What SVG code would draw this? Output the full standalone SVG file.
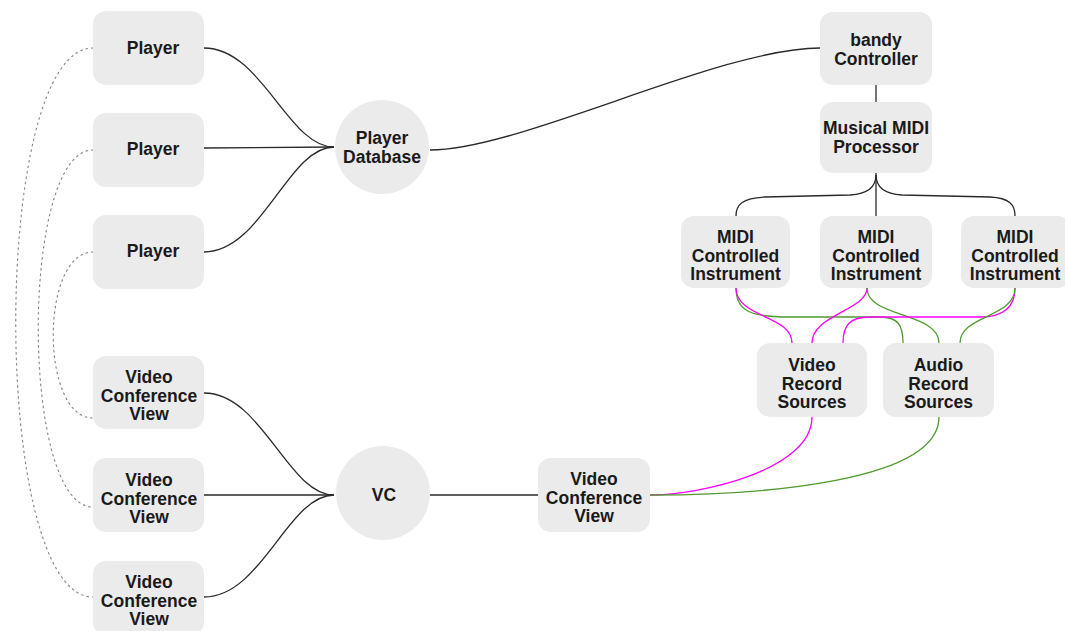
<svg xmlns="http://www.w3.org/2000/svg" width="1065" height="631" viewBox="0 0 1065 631">
<style>
.n{fill:#ebebeb;}
.t{font-family:"Liberation Sans",Arial,sans-serif;font-weight:bold;font-size:17.5px;fill:#1a1a1a;text-anchor:middle;}
.e{fill:none;stroke:#2a2a2a;stroke-width:1.3;}
.d{fill:none;stroke:#888;stroke-width:1.2;stroke-dasharray:1.5,4;stroke-linecap:round;}
.m{fill:none;stroke:#ff00ff;stroke-width:1.3;}
.g{fill:none;stroke:#4e9a2c;stroke-width:1.3;}
</style>
<rect width="1065" height="631" fill="#ffffff"/>
<g id="connectors">
<path class="d" d="M93,48 C-10,48 -10,597 93,597"/>
<path class="d" d="M93,150 C20,150 20,507 93,507"/>
<path class="d" d="M93,252 C40,252 40,418 93,418"/>
<path class="e" d="M204,48 C262,48 288,147 334,147"/>
<path class="e" d="M204,148 L334,147"/>
<path class="e" d="M204,252 C262,252 288,147 334,147"/>
<path class="e" d="M430,150 C520,150 720,48 820,48"/>
<path class="e" d="M876,85 L876,102"/>
<path class="e" d="M876,173 L876,216"/>
<path class="e" d="M876,175 C876,188 866,194 850,195 L765,197 C742,198 736,205 736,216"/>
<path class="e" d="M876,175 C876,188 886,194 902,195 L990,197 C1010,198 1015,205 1015,216"/>
<path class="e" d="M204,393 C262,393 288,495 334,495"/>
<path class="e" d="M204,495 L334,495"/>
<path class="e" d="M204,597 C262,597 288,495 334,495"/>
<path class="e" d="M430,495 L538,495"/>
<path class="g" d="M736,288 C736,312 752,317 790,317 L880,317 C898,317 903,325 903,343"/>
<path class="m" d="M736,288 C736,318 792,315 792,343"/>
<path class="m" d="M867,288 C867,310 812,315 812,343"/>
<path class="g" d="M867,288 C867,318 939,312 939,343"/>
<path class="m" d="M1015,288 C1015,310 1000,317 980,317 L870,317 C850,317 843,325 843,343"/>
<path class="g" d="M1015,288 C1015,318 960,315 960,343"/>
<path class="m" d="M812,417 C812,470 700,495 650,495"/>
<path class="g" d="M939,417 C939,482 760,495 650,495"/>
</g>
<g id="player1"><rect class="n" x="93" y="11" width="111" height="74" rx="13"/><text class="t" x="153" y="54">Player</text></g>
<g id="player2"><rect class="n" x="93" y="113" width="111" height="74" rx="13"/><text class="t" x="153" y="155">Player</text></g>
<g id="player3"><rect class="n" x="93" y="215" width="111" height="74" rx="13"/><text class="t" x="153" y="257">Player</text></g>
<g id="playerdb"><circle class="n" cx="382" cy="147" r="47"/><text class="t" x="382" y="144">Player</text><text class="t" x="382" y="162.5">Database</text></g>
<g id="vcv1"><rect class="n" x="93" y="356" width="111" height="73" rx="13"/><text class="t" x="149" y="383">Video</text><text class="t" x="149" y="401.5">Conference</text><text class="t" x="149" y="420">View</text></g>
<g id="vcv2"><rect class="n" x="93" y="458" width="111" height="74" rx="13"/><text class="t" x="149" y="486">Video</text><text class="t" x="149" y="504.5">Conference</text><text class="t" x="149" y="523">View</text></g>
<g id="vcv3"><rect class="n" x="93" y="561" width="111" height="74" rx="13"/><text class="t" x="149" y="588">Video</text><text class="t" x="149" y="606.5">Conference</text><text class="t" x="149" y="625">View</text></g>
<g id="vc"><circle class="n" cx="383" cy="493" r="47"/><text class="t" x="384" y="501">VC</text></g>
<g id="vcv4"><rect class="n" x="538" y="458" width="112" height="74" rx="13"/><text class="t" x="594" y="485">Video</text><text class="t" x="594" y="503.5">Conference</text><text class="t" x="594" y="522">View</text></g>
<g id="bandy"><rect class="n" x="820" y="12" width="112" height="73" rx="13"/><text class="t" x="876" y="46">bandy</text><text class="t" x="876" y="64.5">Controller</text></g>
<g id="midiproc"><rect class="n" x="820" y="102" width="112" height="71" rx="13"/><text class="t" x="876" y="134">Musical MIDI</text><text class="t" x="876" y="152.5">Processor</text></g>
<g id="midi1"><rect class="n" x="681" y="216" width="109" height="72" rx="13"/><text class="t" x="735.5" y="243">MIDI</text><text class="t" x="735.5" y="261.5">Controlled</text><text class="t" x="735.5" y="280">Instrument</text></g>
<g id="midi2"><rect class="n" x="820" y="216" width="112" height="72" rx="13"/><text class="t" x="876" y="243">MIDI</text><text class="t" x="876" y="261.5">Controlled</text><text class="t" x="876" y="280">Instrument</text></g>
<g id="midi3"><rect class="n" x="961" y="216" width="110" height="72" rx="13"/><text class="t" x="1015" y="243">MIDI</text><text class="t" x="1015" y="261.5">Controlled</text><text class="t" x="1015" y="280">Instrument</text></g>
<g id="videorec"><rect class="n" x="757" y="343" width="110" height="74" rx="13"/><text class="t" x="812" y="371">Video</text><text class="t" x="812" y="389.5">Record</text><text class="t" x="812" y="408">Sources</text></g>
<g id="audiorec"><rect class="n" x="883" y="343" width="111" height="74" rx="13"/><text class="t" x="938.5" y="371">Audio</text><text class="t" x="938.5" y="389.5">Record</text><text class="t" x="938.5" y="408">Sources</text></g>
</svg>
